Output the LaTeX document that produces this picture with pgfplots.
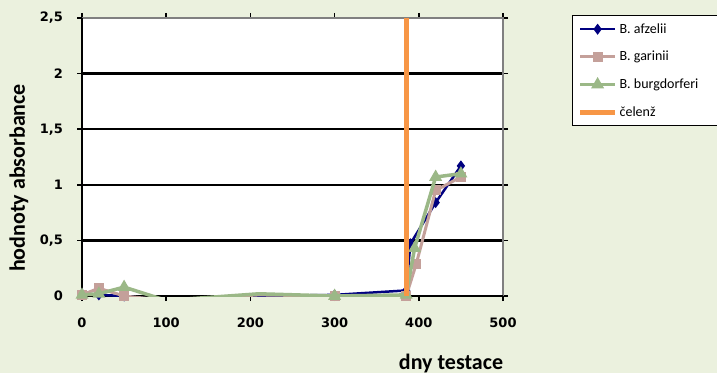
\documentclass[border=0pt]{standalone}
\usepackage{pgfplots}
\pgfplotsset{compat=1.18}
\usepackage{fontspec}
\setmainfont{Carlito}
\newfontfamily\tickfont{DejaVu Sans}
\definecolor{bgcol}{HTML}{EBF1DE}
\definecolor{cafz}{HTML}{000080}
\definecolor{cgar}{HTML}{C4A09A}
\definecolor{cbur}{HTML}{9BB887}
\definecolor{ccel}{HTML}{F79646}
\newcommand{\legtxt}[1]{\makebox[100bp][l]{#1}}
\begin{document}
\begin{tikzpicture}[x=1bp,y=1bp]
\useasboundingbox (0,0) rectangle (717,373);
\fill[bgcol] (0,0) rectangle (717,373);
\clip (0,0) rectangle (717,373);
\begin{axis}[
  at={(82bp,77bp)}, anchor=south west,
  scale only axis, width=421bp, height=278bp,
  xmin=0, xmax=500, ymin=0, ymax=2.5,
  axis background/.style={fill=white},
  axis line style={draw=none},
  xtick={0,100,200,300,400,500},
  xticklabels={0,100,200,300,400,500},
  ytick={0,0.5,1,1.5,2,2.5},
  yticklabels={0,{0,5},1,{1,5},2,{2,5}},
  /pgf/number format/assume math mode=true,
  tick align=outside,
  major tick length=5bp,
  tick style={black, line width=1.5bp},
  ticklabel style={font=\tickfont\bfseries\fontsize{13bp}{15bp}\selectfont, inner sep=0pt},
  yticklabel style={xshift=-14bp},
  xticklabel style={yshift=-17bp},
  clip mode=individual,
  legend style={at={(1.1639,1.0108)}, anchor=north west, draw=black, line width=1.2bp,
    font=\fontsize{14bp}{16bp}\selectfont, row sep=12.5bp, inner xsep=5bp, inner ysep=6bp,
    cells={anchor=west}, fill=white},
  legend cell align=left,
  legend image code/.code={%
    \draw[#1,mark=none] (0bp,0bp) -- (35bp,0bp);
    \draw[#1,mark indices={1}] plot coordinates {(17.5bp,0bp)};},
]
\draw[black, line width=2.5bp] (axis cs:0,0.5) -- (axis cs:500,0.5);
\draw[black, line width=2.5bp] (axis cs:0,1) -- (axis cs:500,1);
\draw[black, line width=2.5bp] (axis cs:0,1.5) -- (axis cs:500,1.5);
\draw[black, line width=2.5bp] (axis cs:0,2) -- (axis cs:500,2);
\draw[gray, line width=2bp] (axis cs:0,2.5) -- (axis cs:500,2.5) -- (axis cs:500,0);
\draw[black, line width=2.5bp] (axis cs:0,2.5) -- (axis cs:0,0) -- (axis cs:500,0);
\addplot[cafz, line width=2.5bp, mark=diamond*, mark size=3.5bp, mark options={solid}, mark indices={1,2,3,5,6,7,8,9,10}]
 coordinates {(0,0.02)(20,0.01)(50,0.0)(100,-0.04)(210,0.0)(300,0.01)(385,0.05)(390,0.47)(420,0.84)(450,1.17)};
\addlegendentry{\legtxt{B. afzelii}}
\addplot[cgar, line width=3bp, mark=square*, mark size=3.5bp, mark indices={1,2,3,5,6,7,8,9,10}]
 coordinates {(0,0.01)(20,0.07)(50,0.0)(100,-0.04)(210,0.01)(300,0.0)(385,0.0)(397,0.29)(420,0.95)(450,1.07)};
\addlegendentry{\legtxt{B. garinii}}
\addplot[cbur, line width=3.5bp, mark=triangle*, mark size=4bp, mark indices={1,2,3,5,6,7,8,9,10}]
 coordinates {(0,0.01)(20,0.02)(50,0.08)(100,-0.04)(210,0.02)(300,0.0)(385,0.01)(395,0.43)(420,1.07)(450,1.10)};
\addlegendentry{\legtxt{B. burgdorferi}}
\addplot[ccel, line width=5bp, no marks] coordinates {(385,0)(385,2.5)};
\addlegendentry{\legtxt{čelenž}}
\end{axis}
\node[rotate=90, font=\bfseries\fontsize{22bp}{26bp}\selectfont] at (19,195) {hodnoty absorbance};
\node[anchor=base, font=\bfseries\fontsize{22bp}{26bp}\selectfont] at (451,4) {dny testace};
\end{tikzpicture}
\end{document}
